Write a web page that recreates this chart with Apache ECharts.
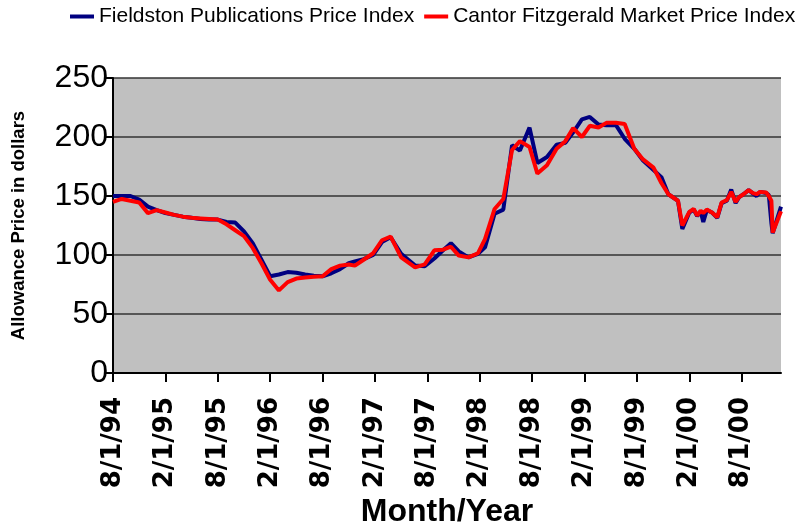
<!DOCTYPE html>
<html>
<head>
<meta charset="utf-8">
<script src="https://cdn.jsdelivr.net/npm/echarts@6/dist/echarts.min.js"></script>
<style>
  html, body { margin: 0; padding: 0; background: #fff; }
  #chart { width: 811px; height: 523px; }
</style>
</head>
<body>
<div id="chart"></div>
<script>
// months counted from 8/1/94
var months = [0, 1, 2, 3, 4, 5, 6, 7, 8, 9, 10, 11, 12, 13, 14, 15, 16, 17, 18, 19,
    20, 21, 22, 23, 24, 25, 26, 27, 27.7, 28.7, 29.8, 30.8, 31.8, 33, 34.6, 35.7, 36.8,
    37.8, 38.7, 39.6, 40.7, 41.8, 42.6, 43.7, 44.7, 45.7, 46.6, 47.7, 48.6, 49.7, 50.8,
    51.8, 52.7, 53.7, 54.6, 55.6, 56.5, 57.6, 58.6, 59.7, 60.7, 61.9, 62.8, 63.6, 64.7,
    65.2, 66, 66.5, 66.9, 67.3, 67.6, 68, 68.6, 69.2, 69.7, 70.3, 70.8, 71.3, 71.7, 72.2,
    72.8, 73.3, 73.7, 74.1, 74.8, 75.1, 75.4, 75.55, 76.5];

var fieldston = [150, 150, 150, 147, 141, 138, 135.5, 134, 132.5, 131.5, 130.5, 130, 130,
    128, 127.5, 120, 110, 96, 82, 83.5, 85.5, 85, 83.5, 82.5, 82, 84.5, 88, 93, 94.5, 96.5,
    100, 111, 115, 101, 91, 90.5, 97, 104, 110, 103, 98, 101, 106.5, 135, 138.5, 193, 188.5,
    208, 178, 183, 193.5, 195, 204, 215, 217, 210.5, 210, 210, 198.5, 190, 180, 172, 166,
    151.5, 146, 122, 136, 138.5, 133, 137, 128, 138, 136, 131.5, 144, 146, 155.5, 144, 149,
    151.5, 155, 152, 150, 153.5, 152.5, 151, 127, 118.5, 141];

var cantor = [145, 147.5, 146, 144.5, 135.5, 138, 136, 134, 132.5, 131.5, 131, 130.5, 130,
    126, 121, 116, 106, 93, 79, 70, 77, 80, 81, 81.5, 82, 88, 91, 92, 91, 96, 101.5, 112.5,
    115.5, 98, 89.5, 92, 104, 104.5, 107, 99.5, 98, 101.5, 113.5, 139, 147.5, 189, 196.5,
    191.5, 169, 176, 190, 196.5, 207.5, 200, 209.5, 208, 212, 212, 211, 190, 181, 174, 161,
    151.5, 146, 125, 136.5, 139, 133.5, 137.5, 135.5, 138.5, 136, 132, 144.5, 146.5, 153.5,
    145, 149, 151.5, 155, 152.5, 151.5, 153.5, 153, 150, 146, 119, 137];

var tickLabels = ['8/1/94', '2/1/95', '8/1/95', '2/1/96', '8/1/96', '2/1/97', '8/1/97',
    '2/1/98', '8/1/98', '2/1/99', '8/1/99', '2/1/00', '8/1/00'];

var tickMonths = tickLabels.map(function (l, i) { return i * 6; });

function pairs(vals) {
    return months.map(function (m, i) { return [m, vals[i]]; });
}

var chart = echarts.init(document.getElementById('chart'));
chart.setOption({
    animation: false,
    textStyle: { fontFamily: 'Liberation Sans, Arial, sans-serif', color: '#000' },
    legend: {
        top: 6,
        left: 70,
        padding: 0,
        icon: 'rect',
        itemWidth: 24,
        itemHeight: 4,
        itemGap: 10,
        textStyle: { fontSize: 21, color: '#000' },
        data: ['Fieldston Publications Price Index', 'Cantor Fitzgerald Market Price Index']
    },
    grid: {
        left: 113,
        top: 78,
        width: 668,
        height: 295,
        show: true,
        backgroundColor: '#C0C0C0',
        borderWidth: 0,
        outerBoundsMode: 'none'
    },
    xAxis: {
        type: 'value',
        min: 0,
        max: 76.5,
        interval: 6,
        name: 'Month/Year',
        nameLocation: 'middle',
        nameGap: 115,
        nameTextStyle: { fontSize: 32, fontWeight: 'bold', color: '#000' },
        axisLine: { lineStyle: { color: '#000', width: 2 } },
        axisTick: { length: 9, lineStyle: { color: '#000', width: 2 }, customValues: tickMonths },
        axisLabel: {
            rotate: 90,
            margin: 24,
            fontSize: 26,
            fontWeight: 'bold',
            fontFamily: 'DejaVu Sans',
            color: '#000',
            customValues: tickMonths,
            formatter: function (v) { return tickLabels[Math.round(v / 6)] || ''; }
        },
        splitLine: { show: false }
    },
    yAxis: {
        type: 'value',
        min: 0,
        max: 250,
        interval: 50,
        name: 'Allowance Price in dollars',
        nameLocation: 'middle',
        nameGap: 85,
        nameTextStyle: { fontSize: 18.5, fontWeight: 'bold', color: '#000' },
        axisLine: { show: true, lineStyle: { color: '#000', width: 2 } },
        axisTick: { show: true, length: 9, lineStyle: { color: '#000', width: 2 } },
        axisLabel: { fontSize: 32, color: '#000', margin: 5 },
        splitLine: { lineStyle: { color: '#333', width: 1.5 } }
    },
    series: [
        {
            name: 'Fieldston Publications Price Index',
            type: 'line',
            color: '#000080',
            symbol: 'none',
            lineStyle: { width: 4 },
            data: pairs(fieldston)
        },
        {
            name: 'Cantor Fitzgerald Market Price Index',
            type: 'line',
            color: '#FF0000',
            symbol: 'none',
            lineStyle: { width: 4 },
            data: pairs(cantor)
        }
    ]
});
</script>
</body>
</html>
